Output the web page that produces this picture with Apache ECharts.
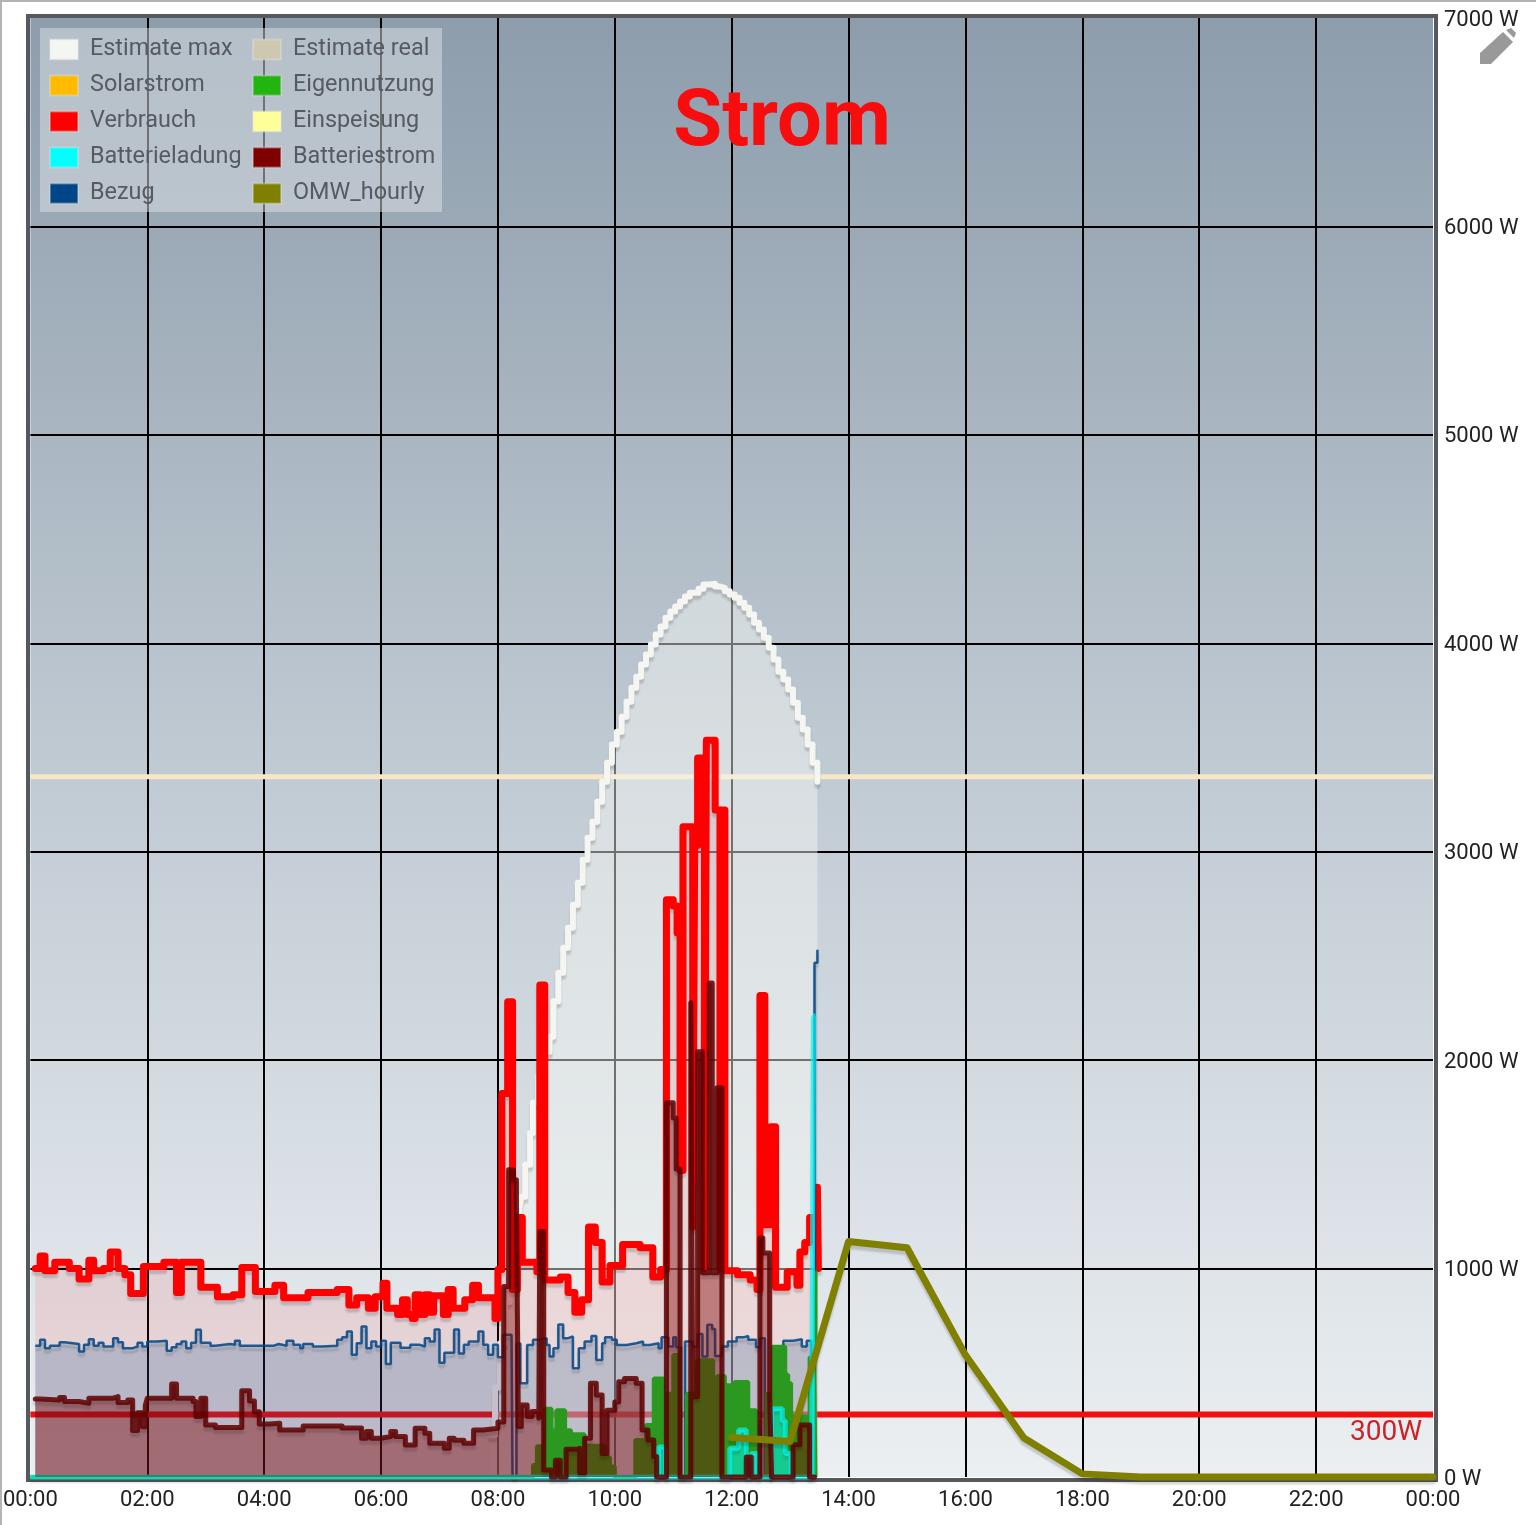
<!DOCTYPE html>
<html lang="en">

<head>
  <meta charset="UTF-8">
  <title>Strom</title>
  <style>
    * {
      padding: 0px;
      margin: 0px;
    }

    body {
      overflow: hidden;
      background: #ffffff;
    }

    #chart {
      width: 1536px;
      height: 1525px;
    }
  </style>
</head>

<body>
  <div id="chart"></div>
  <script src="https://cdn.jsdelivr.net/npm/echarts@6/dist/echarts.min.js"></script>
  <script>
    // every series is [minute of day, watts], held until the next entry
    const estimateMax = [[473, 200], [477, 430], [482, 640], [487, 840], [492, 1010], [497, 1180], [502, 1290], [504, 1344], [508, 1498], [513, 1651], [516, 1795], [521, 1920], [526, 2040], [533, 2112], [537, 2283], [542, 2419], [547, 2539], [552, 2635], [557, 2746], [562, 2851], [567, 2962], [572, 3067], [577, 3144], [582, 3240], [587, 3336], [592, 3427], [597, 3514], [602, 3576], [607, 3648], [612, 3720], [617, 3787], [622, 3840], [627, 3898], [632, 3946], [637, 3994], [642, 4042], [647, 4080], [652, 4123], [657, 4152], [662, 4176], [667, 4200], [672, 4224], [677, 4243], [686, 4262], [691, 4282], [698, 4286], [703, 4272], [708, 4266], [713, 4250], [718, 4234], [723, 4219], [728, 4195], [733, 4171], [738, 4138], [743, 4099], [748, 4066], [753, 4027], [758, 3979], [763, 3922], [768, 3864], [773, 3826], [778, 3778], [783, 3715], [788, 3643], [793, 3586], [798, 3514], [803, 3427], [808, 3336]];

    const verbrauch = [[5, 1000], [10, 1060], [15, 990], [25, 1030], [40, 1000], [50, 950], [60, 1040], [65, 990], [75, 1000], [82, 1080], [90, 1000], [97, 970], [103, 880], [116, 1010], [137, 1030], [150, 885], [155, 1030], [175, 910], [192, 865], [208, 875], [217, 1005], [226, 1005], [231, 890], [251, 920], [260, 860], [285, 885], [315, 900], [327, 825], [335, 860], [347, 810], [354, 865], [362, 930], [366, 810], [377, 780], [382, 850], [387, 780], [392, 760], [395, 875], [400, 780], [405, 875], [410, 790], [414, 870], [424, 780], [429, 900], [434, 810], [446, 850], [454, 920], [460, 860], [477, 760], [480, 995], [484, 1840], [490, 2280], [495, 900], [500, 1245], [505, 1030], [520, 985], [523, 2360], [528, 945], [544, 960], [552, 885], [559, 790], [566, 850], [573, 1200], [580, 1125], [587, 935], [595, 1015], [608, 1115], [626, 1100], [639, 960], [647, 995], [653, 2770], [660, 2740], [664, 2610], [667, 1470], [670, 3120], [680, 1200], [682, 3030], [685, 3450], [692, 1000], [694, 3535], [703, 3200], [708, 1000], [709, 3200], [713, 990], [726, 970], [739, 945], [746, 900], [749, 2310], [754, 1210], [760, 1680], [765, 910], [777, 985], [787, 920], [790, 1080], [795, 1125], [800, 1245], [808, 1390], [809, 1000]];

    const bezug = [[5, 630], [10, 658], [15, 618], [20, 630], [30, 646], [35, 638], [50, 602], [55, 634], [60, 661], [65, 630], [70, 644], [75, 626], [85, 666], [90, 646], [95, 618], [105, 626], [110, 644], [115, 626], [120, 650], [130, 654], [140, 606], [145, 622], [150, 638], [155, 650], [160, 618], [165, 644], [170, 706], [175, 644], [185, 630], [190, 638], [205, 634], [210, 654], [215, 630], [243, 630], [250, 638], [255, 630], [263, 654], [270, 634], [277, 618], [280, 638], [290, 626], [300, 630], [315, 658], [320, 670], [325, 698], [330, 586], [335, 642], [340, 722], [345, 618], [350, 650], [355, 626], [360, 654], [365, 542], [370, 644], [380, 620], [390, 634], [400, 626], [405, 666], [410, 650], [415, 708], [420, 548], [425, 596], [435, 708], [440, 593], [445, 634], [450, 650], [460, 698], [465, 634], [470, 586], [475, 634], [480, 575], [485, 682], [494, 690], [495, 0], [499, 640], [503, 450], [510, 633], [516, 658], [522, 666], [530, 633], [533, 578], [537, 618], [542, 732], [547, 666], [552, 674], [557, 522], [563, 618], [569, 650], [576, 677], [581, 561], [587, 642], [590, 670], [597, 658], [602, 633], [612, 642], [622, 650], [629, 633], [636, 642], [645, 618], [648, 670], [655, 626], [660, 670], [663, 622], [668, 0], [672, 650], [680, 625], [685, 686], [690, 578], [695, 730], [700, 710], [703, 580], [710, 626], [716, 650], [725, 670], [732, 677], [737, 658], [745, 622], [749, 666], [754, 0], [761, 385], [762, 626], [773, 654], [783, 661], [792, 626], [797, 654], [802, 578], [805, 2467], [808, 2530]];

    const eigennutzung = [[0, 0], [516, 58], [520, 147], [528, 328], [535, 224], [540, 320], [549, 224], [555, 205], [569, 150], [590, 95], [595, 50], [600, 0], [621, 178], [632, 250], [640, 473], [650, 400], [655, 400], [660, 585], [666, 0], [674, 400], [684, 560], [701, 400], [705, 485], [713, 440], [723, 456], [737, 320], [745, 265], [749, 0], [756, 400], [762, 625], [775, 490], [778, 450], [781, 290], [800, 575], [806, 980], [808, 980]];

    const batterieladung = [[0, 0], [645, 144], [652, 0], [718, 138], [727, 226], [735, 0], [740, 113], [746, 0], [761, 328], [772, 270], [775, 113], [781, 0], [802, 50], [804, 2212], [806, 2212]];

    const batteriestrom = [[5, 374], [10, 370], [30, 382], [35, 362], [50, 354], [60, 378], [85, 386], [90, 357], [100, 370], [105, 223], [110, 308], [115, 241], [118, 345], [120, 378], [145, 446], [150, 378], [167, 362], [170, 290], [175, 378], [180, 250], [190, 238], [217, 414], [225, 365], [230, 313], [235, 254], [245, 258], [256, 226], [280, 245], [320, 235], [340, 186], [345, 218], [350, 186], [360, 194], [370, 218], [375, 194], [385, 154], [395, 234], [405, 210], [410, 162], [425, 138], [430, 186], [435, 176], [445, 162], [455, 226], [465, 234], [480, 264], [486, 914], [491, 1474], [496, 1426], [499, 1330], [501, 242], [504, 346], [510, 290], [515, 314], [522, 282], [523, 1178], [527, 33], [535, 0], [539, 80], [544, 0], [550, 133], [561, 138], [564, 20], [569, 186], [575, 450], [581, 394], [587, 113], [592, 320], [600, 360], [604, 457], [610, 472], [622, 450], [628, 226], [634, 178], [640, 98], [643, 0], [653, 1795], [660, 1723], [663, 1478], [667, 0], [678, 2275], [680, 385], [685, 2040], [690, 980], [697, 2370], [700, 980], [705, 1867], [710, 0], [735, 96], [740, 0], [749, 1147], [752, 1075], [759, 393], [761, 0], [783, 155], [790, 250], [800, 0], [805, 0]];

    const omwHourly = [[720, 190], [780, 170], [840, 1130], [900, 1100], [960, 585], [1020, 187], [1080, 15], [1140, 0], [1200, 0], [1260, 0], [1320, 0], [1380, 0], [1440, 0]];

    const limitLine = [[0, 300], [1440, 300]];
    const capLine = [[0, 3360], [1440, 3360]];

    const leftLegend = ['Estimate max', 'Solarstrom', 'Verbrauch', 'Batterieladung', 'Bezug'];
    const rightLegend = ['Estimate real', 'Eigennutzung', 'Einspeisung', 'Batteriestrom', 'OMW_hourly'];

    const lineShadow = {
      shadowColor: 'rgba(0, 0, 0, 0.16)',
      shadowBlur: 2,
      shadowOffsetY: 4
    };

    const makeSeries = (name, data, color, width, fillOpacity, z) => ({
      name: name,
      type: 'line',
      data: data,
      step: 'end',
      z: z,
      showSymbol: false,
      clip: false,
      itemStyle: { color: color },
      lineStyle: { color: color, width: width, join: 'round', cap: 'round', ...lineShadow },
      areaStyle: fillOpacity ? { color: color, opacity: fillOpacity } : undefined
    });

    const makeLegend = (left, names) => ({
      data: names,
      orient: 'vertical',
      left: left,
      top: 38,
      padding: 0,
      icon: 'rect',
      itemWidth: 28,
      itemHeight: 20,
      itemGap: 13,
      z: 30,
      selectedMode: false,
      itemStyle: { borderWidth: 2, borderColor: 'rgba(230, 230, 230, 0.35)' },
      textStyle: {
        fontFamily: 'Roboto',
        fontSize: 23.4,
        lineHeight: 20,
        color: '#565b61',
        padding: [0, 0, 0, 7]
      }
    });

    const chart = echarts.init(document.getElementById('chart'));
    chart.setOption({
      animation: false,
      backgroundColor: '#ffffff',
      title: {
        text: 'Strom',
        left: 777,
        top: 80,
        z: 30,
        textAlign: 'center',
        textStyle: {
          fontFamily: 'Roboto',
          fontSize: 79.5,
          fontWeight: 700,
          color: '#f70d0d'
        }
      },
      legend: [makeLegend(49, leftLegend), makeLegend(252, rightLegend)],
      grid: {
        left: 30,
        right: 103,
        top: 18,
        bottom: 48,
        show: true,
        borderWidth: 0,
        backgroundColor: {
          type: 'linear', x: 0, y: 0, x2: 0, y2: 1,
          colorStops: [
            { offset: 0, color: '#8d9dac' },
            { offset: 0.5, color: '#bfc9d2' },
            { offset: 1, color: '#ebeff2' }
          ]
        }
      },
      xAxis: {
        type: 'value',
        min: 0,
        max: 1440,
        interval: 120,
        axisLine: { show: false },
        axisTick: { show: false },
        splitLine: { show: true, showMinLine: false, showMaxLine: false, lineStyle: { color: '#000000', width: 2 } },
        axisLabel: {
          margin: 12,
          fontFamily: 'Roboto',
          fontSize: 22,
          color: '#222222',
          formatter: (v) => String((v / 60) % 24).padStart(2, '0') + ':00'
        }
      },
      yAxis: {
        type: 'value',
        position: 'right',
        min: 0,
        max: 7000,
        interval: 1000,
        axisLine: { show: false },
        axisTick: { show: false },
        splitLine: { show: true, showMinLine: false, showMaxLine: false, lineStyle: { color: '#000000', width: 2 } },
        axisLabel: {
          margin: 11,
          formatter: (v) => '{tick|' + v + ' W}',
          rich: {
            tick: {
              fontFamily: 'Roboto',
              fontSize: 22,
              color: '#222222',
              padding: [4, 0, 0, 0]
            }
          }
        }
      },
      series: [
        {
          name: 'Limit',
          type: 'line',
          data: limitLine,
          z: 2,
          showSymbol: false,
          lineStyle: { color: '#f01010', width: 6 },
          endLabel: {
            show: true,
            formatter: '300W',
            align: 'right',
            offset: [-19, 19],
            fontFamily: 'Roboto',
            fontSize: 28,
            color: '#cc2228'
          }
        },
        {
          name: 'Cap',
          type: 'line',
          data: capLine,
          z: 2,
          showSymbol: false,
          lineStyle: { color: '#f6e8c6', width: 5 }
        },
        makeSeries('Estimate max', estimateMax, '#f5f6f2', 6, 0.46, 3),
        makeSeries('Estimate real', [], '#cfc8b0', 3, 0, 3),
        makeSeries('Solarstrom', [], '#ffbb00', 3, 0, 3),
        makeSeries('Einspeisung', [], '#ffff99', 3, 0, 3),
        makeSeries('Verbrauch', verbrauch, '#ff0000', 7, 0.09, 4),
        {
          ...makeSeries('Bezug', bezug, '#004586', 2.5, 0.2, 5),
          lineStyle: { color: '#004586', width: 2.5, opacity: 0.85, ...lineShadow }
        },
        {
          ...makeSeries('Eigennutzung', eigennutzung, '#22b511', 4, 1, 6),
          lineStyle: { color: '#2b9820', width: 4 },
          areaStyle: { color: '#2b9820', opacity: 1 }
        },
        {
          ...makeSeries('Batterieladung', batterieladung, '#00ffff', 5, 0.5, 7),
          lineStyle: { color: '#00ffff', width: 5, opacity: 0.65, ...lineShadow }
        },
        {
          ...makeSeries('Batteriestrom', batteriestrom, '#7f0000', 5, 0.42, 8),
          lineStyle: { color: '#5f0000', width: 5, opacity: 0.85, join: 'round', cap: 'round', ...lineShadow }
        },
        { ...makeSeries('OMW_hourly', omwHourly, '#808000', 7, 0, 9), step: false }
      ],
      graphic: [
        { type: 'rect', z: 1, shape: { x: 0, y: 0, width: 1536, height: 2 }, style: { fill: '#b4b4b4' } },
        { type: 'rect', z: 1, shape: { x: 0, y: 0, width: 2, height: 1525 }, style: { fill: '#b4b4b4' } },
        { type: 'rect', z: 1, shape: { x: 28, y: 16, width: 1408, height: 1464 }, style: { fill: 'none', stroke: '#55585c', lineWidth: 4 } },
        { type: 'rect', z: 20, shape: { x: 40, y: 28, width: 402, height: 184 }, style: { fill: 'rgba(222, 226, 230, 0.5)' } },
        { type: 'polygon', z: 20, shape: { points: [[1480, 64], [1480, 53], [1503, 32], [1513, 42], [1491, 64]] }, style: { fill: '#999999' } },
        { type: 'polygon', z: 20, shape: { points: [[1506, 30], [1511, 28], [1516, 33], [1514, 38]] }, style: { fill: '#999999' } }
      ]
    });
  </script>
</body>

</html>
